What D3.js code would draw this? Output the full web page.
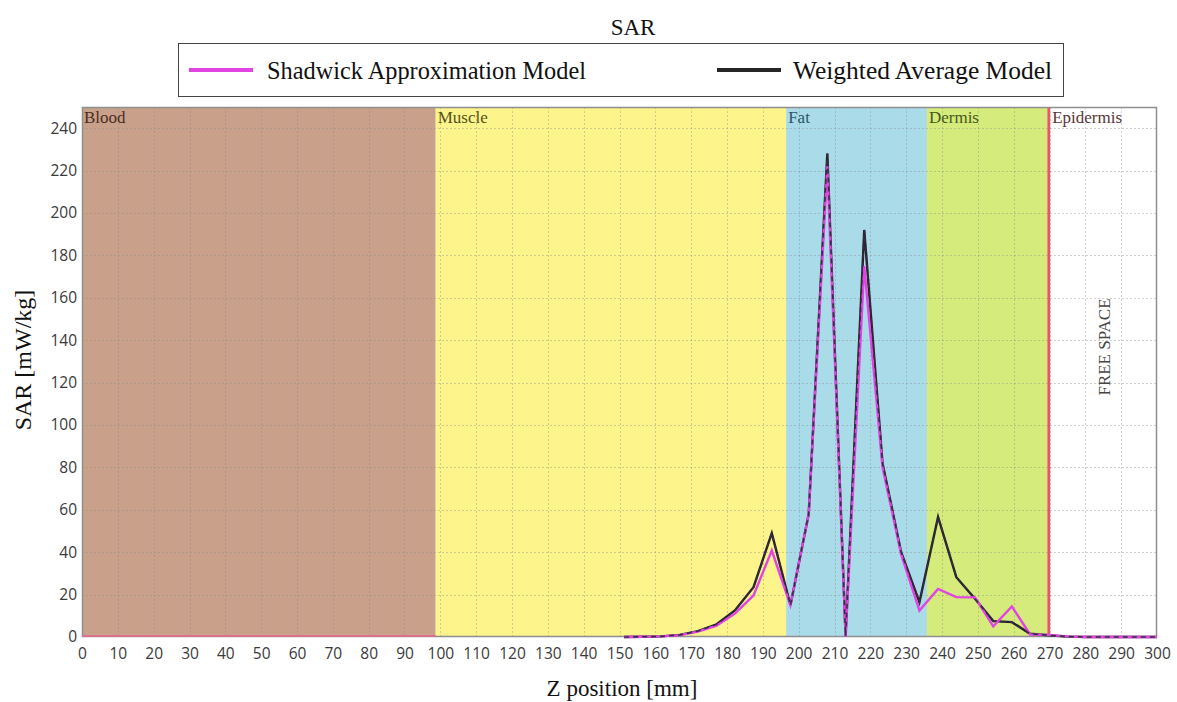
<!DOCTYPE html>
<html>
<head>
<meta charset="utf-8">
<script src="https://cdn.jsdelivr.net/npm/d3@7/dist/d3.min.js"></script>
<style>
  body { margin: 0; background: #fff; }
  svg { display: block; }
</style>
</head>
<body>
<script>
// ---- data ----
const zPositions = [151.3, 156.5, 161.6, 166.8, 171.9, 177.1, 182.2, 187.4, 192.5, 197.7,
                    202.8, 208.0, 213.1, 218.3, 223.4, 228.6, 233.7, 238.9, 244.0, 249.2,
                    254.3, 259.5, 264.6, 269.8, 274.9, 280.1, 285.2, 290.4, 295.5, 300];
const shadwick = [0, 0.1, 0.3, 0.9, 2.5, 5.3, 11, 19.6, 40.8, 15,
                  58, 222, 0, 175, 80, 39, 12.5, 22.7, 18.8, 18.7,
                  5, 14.4, 1.2, 1.0, 0.3, 0, 0, 0, 0, 0];
const weighted = [0, 0.1, 0.3, 1.0, 2.8, 6.0, 12.5, 23.5, 49, 15,
                  58, 228, 0.5, 192, 82, 40, 16.4, 56.6, 28.2, 18,
                  7.5, 7, 1.5, 0.8, 0.2, 0, 0, 0, 0, 0];
const seriesNames = ["Shadwick Approximation Model", "Weighted Average Model"];
const layerNames = ["Blood", "Muscle", "Fat", "Dermis", "Epidermis"];
const layerStart = [0, 98.7, 196.5, 235.8, 269.4];
const layerEnd = [98.7, 196.5, 235.8, 269.4, 270.2];
const xTicks = d3.range(0, 301, 10);
const yTicks = d3.range(0, 241, 20);

// ---- styles ----
const layerFill = ["#c9a08a", "#fdf58b", "#a9dbe8", "#d5eb7b", "#ea5560"];
const layerText = ["#4b2e22", "#55511c", "#2b5866", "#48581a", "#5a3535"];
const seriesColor = ["#e144e3", "#262626"];

const W = 1177, H = 702;
const pLeft = 82, pRight = 1157, pTop = 107, pBottom = 637;

const svg = d3.select("body").append("svg").attr("width", W).attr("height", H);
const x = d3.scaleLinear().domain([0, 300]).range([pLeft, pRight]);
const y = d3.scaleLinear().domain([0, 250]).range([pBottom, pTop]);

// title
svg.append("text").attr("x", 633).attr("y", 35).attr("text-anchor", "middle")
  .attr("font-family", "Liberation Serif").attr("font-size", 23).attr("fill", "#111").text("SAR");

// legend
const lg = svg.append("g");
lg.append("rect").attr("x", 178.5).attr("y", 43.5).attr("width", 885).attr("height", 53)
  .attr("fill", "#fff").attr("stroke", "#444").attr("stroke-width", 1);
const legendItems = [{x0: 189, x1: 253, tx: 267, len: 319}, {x0: 717, x1: 781, tx: 793, len: 259}];
legendItems.forEach((it, i) => {
  lg.append("line").attr("x1", it.x0).attr("x2", it.x1).attr("y1", 70).attr("y2", 70)
    .attr("stroke", seriesColor[i]).attr("stroke-width", 4);
  lg.append("text").attr("x", it.tx).attr("y", 79)
    .attr("font-family", "Liberation Serif").attr("font-size", 24.5).attr("fill", "#111")
    .attr("textLength", it.len).attr("lengthAdjust", "spacingAndGlyphs")
    .text(seriesNames[i]);
});

// plot background
svg.append("rect").attr("x", pLeft).attr("y", pTop).attr("width", pRight - pLeft).attr("height", pBottom - pTop)
  .attr("fill", "#fff");

// layers
svg.append("g").selectAll("rect").data(layerNames).join("rect")
  .attr("x", (d, i) => x(layerStart[i]))
  .attr("width", (d, i) => x(layerEnd[i]) - x(layerStart[i]))
  .attr("y", pTop).attr("height", pBottom - pTop)
  .attr("fill", (d, i) => layerFill[i]);

// grid
const grid = svg.append("g").attr("stroke", "#8a8a8a").attr("stroke-opacity", 0.4)
  .attr("stroke-dasharray", "2,2").attr("stroke-width", 1);
grid.selectAll(".vx").data(xTicks.filter(t => t > 0 && t < 300)).join("line")
  .attr("x1", d => Math.round(x(d)) + 0.5).attr("x2", d => Math.round(x(d)) + 0.5)
  .attr("y1", pTop).attr("y2", pBottom);
grid.selectAll(".hy").data(yTicks.filter(t => t > 0)).join("line")
  .attr("y1", d => Math.round(y(d)) + 0.5).attr("y2", d => Math.round(y(d)) + 0.5)
  .attr("x1", pLeft).attr("x2", pRight);

// frame
svg.append("rect").attr("x", pLeft + 0.5).attr("y", pTop + 0.5).attr("width", pRight - pLeft - 1)
  .attr("height", pBottom - pTop - 1).attr("fill", "none").attr("stroke", "#8f8f8f").attr("stroke-width", 1.5);
// pinkish baseline along blood region
svg.append("line").attr("x1", x(0)).attr("x2", x(layerEnd[0])).attr("y1", y(0) - 1).attr("y2", y(0) - 1)
  .attr("stroke", "#d9708e").attr("stroke-width", 2);

// layer labels
svg.append("g").selectAll("text").data(layerNames).join("text")
  .attr("x", (d, i) => x(i === 4 ? layerEnd[i] : layerStart[i]) + 2)
  .attr("y", pTop + 16)
  .attr("font-family", "Liberation Serif").attr("font-size", 17)
  .attr("fill", (d, i) => layerText[i]).text(d => d);

svg.append("text").attr("transform", `translate(${1110},${347}) rotate(-90)`)
  .attr("text-anchor", "middle").attr("font-family", "Liberation Serif").attr("font-size", 17)
  .attr("fill", "#444").text("FREE SPACE");

// lines
const line = d3.line().x((d, i) => x(zPositions[i])).y(d => y(d));
svg.append("path").datum(weighted).attr("d", line).attr("fill", "none")
  .attr("stroke", seriesColor[1]).attr("stroke-width", 2.4).attr("stroke-linejoin", "miter");
svg.append("path").datum(shadwick).attr("d", line).attr("fill", "none")
  .attr("stroke", seriesColor[0]).attr("stroke-width", 2.4);
svg.append("path").datum(weighted).attr("d", line).attr("fill", "none")
  .attr("stroke", "#3a2a4a").attr("stroke-width", 1.6).attr("stroke-dasharray", "5,4");

// axes
const xAxis = svg.append("g").attr("transform", `translate(0,${pBottom})`)
  .call(d3.axisBottom(x).tickValues(xTicks).tickSize(0).tickPadding(11));
const yAxis = svg.append("g").attr("transform", `translate(${pLeft},0)`)
  .call(d3.axisLeft(y).tickValues(yTicks).tickSize(0).tickPadding(5));
[xAxis, yAxis].forEach(a => {
  a.select(".domain").remove();
  a.selectAll("text").attr("font-family", "Open Sans").attr("font-size", 15.5).attr("fill", "#3a3a3a");
});

// axis titles
svg.append("text").attr("x", 622).attr("y", 696).attr("text-anchor", "middle")
  .attr("font-family", "Liberation Serif").attr("font-size", 23).attr("fill", "#111").text("Z position [mm]");
svg.append("text").attr("transform", `translate(${31},${360}) rotate(-90)`).attr("text-anchor", "middle")
  .attr("font-family", "Liberation Serif").attr("font-size", 24).attr("fill", "#111").text("SAR [mW/kg]");
</script>
</body>
</html>
